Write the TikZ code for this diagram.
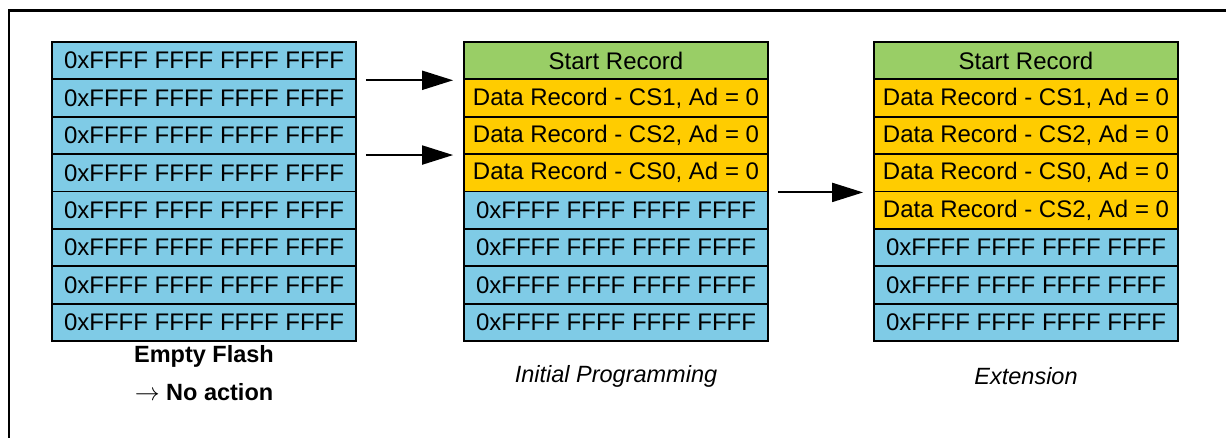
\documentclass[tikz,border=0pt]{standalone}
\usepackage{fontspec}
\setmainfont{Liberation Sans}
\usetikzlibrary{arrows.meta}

\definecolor{flashblue}{RGB}{127,203,230}
\definecolor{startgreen}{RGB}{153,206,102}
\definecolor{recgold}{RGB}{255,204,0}

\tikzset{
  cell/.style={draw=black, line width=1.8pt, minimum width=304pt,
    minimum height=37.4pt, inner sep=0pt, font=\fontsize{24}{27}\selectfont},
  erased/.style={cell, fill=flashblue},
  startrec/.style={cell, fill=startgreen},
  datarec/.style={cell, fill=recgold},
  flow/.style={line width=2pt, -{Triangle[length=31pt,width=19pt]}},
  caption/.style={inner sep=0pt}
}

\begin{document}
\begin{tikzpicture}[x=1pt, y=-1pt]
  \useasboundingbox (0,0) rectangle (1226,437);

  % outer frame (only the left and top edges fall inside the page)
  \draw[line width=2.6pt] (9,445) -- (9,10.5) -- (1235,10.5);

  % empty flash: every row erased
  \foreach \i in {1,...,8}
    \node[erased] (a\i) at (204,{42+(\i-0.5)*37.375}) {0xFFFF FFFF FFFF FFFF};

  % after initial programming
  \node[startrec] (b1) at (616,{42+0.5*37.375}) {Start Record};
  \node[datarec]  (b2) at (616,{42+1.5*37.375}) {Data Record - CS1, Ad = 0};
  \node[datarec]  (b3) at (616,{42+2.5*37.375}) {Data Record - CS2, Ad = 0};
  \node[datarec]  (b4) at (616,{42+3.5*37.375}) {Data Record - CS0, Ad = 0};
  \foreach \i in {5,...,8}
    \node[erased] (b\i) at (616,{42+(\i-0.5)*37.375}) {0xFFFF FFFF FFFF FFFF};

  % after extension
  \node[startrec] (c1) at (1026,{42+0.5*37.375}) {Start Record};
  \node[datarec]  (c2) at (1026,{42+1.5*37.375}) {Data Record - CS1, Ad = 0};
  \node[datarec]  (c3) at (1026,{42+2.5*37.375}) {Data Record - CS2, Ad = 0};
  \node[datarec]  (c4) at (1026,{42+3.5*37.375}) {Data Record - CS0, Ad = 0};
  \node[datarec]  (c5) at (1026,{42+4.5*37.375}) {Data Record - CS2, Ad = 0};
  \foreach \i in {6,...,8}
    \node[erased] (c\i) at (1026,{42+(\i-0.5)*37.375}) {0xFFFF FFFF FFFF FFFF};

  % transitions
  \draw[flow] ([xshift=9pt]a1.south east) -- ([xshift=-10pt]b1.south west);
  \draw[flow] ([xshift=9pt]a3.south east) -- ([xshift=-10pt]b3.south west);
  \draw[flow] ([xshift=9pt]b4.south east) -- ([xshift=-10pt]c4.south west);

  % captions
  \node[caption, font=\fontsize{23.5}{27}\selectfont\bfseries] (capA) at (204,356) {Empty Flash};
  \node[caption, font=\fontsize{23.5}{27}\selectfont\bfseries] (capA2) at (204,392) {$\rightarrow$ No action};
  \node[caption, font=\fontsize{23.5}{27}\selectfont\itshape] (capB) at (616,376) {Initial Programming};
  \node[caption, font=\fontsize{23.5}{27}\selectfont\itshape] (capC) at (1026,376) {Extension};
\end{tikzpicture}
\end{document}
